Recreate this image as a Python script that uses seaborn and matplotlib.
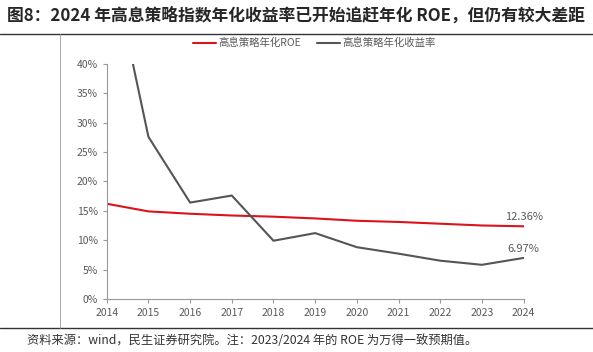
import pandas as pd
import seaborn as sns
import matplotlib.pyplot as plt
from matplotlib.lines import Line2D
from matplotlib.ticker import PercentFormatter

# --- data ---
years = list(range(2014, 2025))
roe = [16.2, 14.9, 14.5, 14.2, 14.0, 13.7, 13.3, 13.1, 12.8, 12.5, 12.36]
ret = [61.0, 27.6, 16.4, 17.6, 9.9, 11.2, 8.8, 7.7, 6.5, 5.8, 6.97]
series_names = ["高息策略年化ROE", "高息策略年化收益率"]
colors = ["#D9141B", "#555555"]

df = pd.DataFrame({
    "year": years * 2,
    "value": roe + ret,
    "series": [series_names[0]] * len(years) + [series_names[1]] * len(years),
})

sns.set_style("white")
plt.rcParams["font.family"] = ["Noto Sans CJK SC", "DejaVu Sans"]

fig = plt.figure(figsize=(5.93, 3.52), dpi=100)
ax = fig.add_axes([0.18, 0.151, 0.703, 0.667])

sns.lineplot(data=df, x="year", y="value", hue="series", palette=colors,
             linewidth=1.5, ax=ax, legend=False)

ax.set_xlim(2014, 2024)
ax.set_ylim(0, 40)
ax.set_xticks(years)
ax.set_yticks(range(0, 41, 5))
ax.yaxis.set_major_formatter(PercentFormatter(decimals=0))
ax.set_xlabel("")
ax.set_ylabel("")
for s in ["top", "right"]:
    ax.spines[s].set_visible(False)
for s in ["left", "bottom"]:
    ax.spines[s].set_color("#999999")
    ax.spines[s].set_linewidth(0.8)
ax.tick_params(axis="both", labelsize=7.5, colors="#595959", length=3,
               width=0.8, direction="out", bottom=True, left=True)
ax.tick_params(axis="both", color="#999999")

# end labels
ax.text(years[-1], roe[-1] + 0.7, f"{roe[-1]:.2f}%", ha="center", va="bottom",
        fontsize=8, color="#595959")
ax.text(years[-1], ret[-1] + 0.7, f"{ret[-1]:.2f}%", ha="center", va="bottom",
        fontsize=8, color="#595959")

# legend at the top
handles = [Line2D([], [], color=c, lw=1.5) for c in colors]
fig.legend(handles, series_names, loc="center", bbox_to_anchor=(0.53, 0.877),
           ncol=2, frameon=False, fontsize=7.5, handlelength=2.2,
           columnspacing=1.6, handletextpad=0.2, labelcolor="#595959")

# title, frame lines and source note
fig.text(0.012, 0.955, "图8：2024 年高息策略指数年化收益率已开始追赶年化 ROE，但仍有较大差距",
         fontsize=12.1, fontweight="bold", color="#262626", ha="left", va="center")
fig.add_artist(Line2D([0.0, 1.0], [0.903, 0.903], color="#333333", lw=1.0))
fig.add_artist(Line2D([0.0, 1.0], [0.068, 0.068], color="#333333", lw=1.0))
fig.add_artist(Line2D([0.101, 0.101], [0.068, 0.903], color="#999999", lw=0.6))
fig.text(0.045, 0.033, "资料来源：wind，民生证券研究院。注：2023/2024 年的 ROE 为万得一致预期值。",
         fontsize=8.8, color="#333333", ha="left", va="center")

fig.savefig("out.png", dpi=100)
